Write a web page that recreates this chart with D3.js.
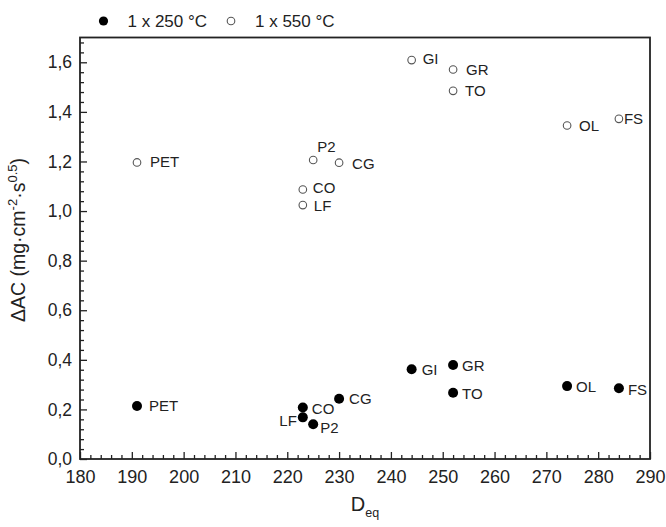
<!DOCTYPE html>
<html>
<head>
<meta charset="utf-8">
<script src="https://cdn.jsdelivr.net/npm/d3@7"></script>
<style>
  body { margin: 0; background: #fff; }
  svg text { font-family: "Liberation Sans", Arial, sans-serif; fill: #222; }
</style>
</head>
<body>
<div id="graph"></div>
<script>
// samples, D_eq and delta AC
const samples = ["PET", "CO", "LF", "P2", "CG", "GI", "GR", "TO", "OL", "FS"];
const deq = [191, 223, 223, 225, 230, 244, 252, 252, 274, 284];
const ac250 = [0.214, 0.208, 0.168, 0.14, 0.243, 0.362, 0.379, 0.267, 0.294, 0.285];
const ac550 = [1.196, 1.087, 1.024, 1.206, 1.195, 1.609, 1.571, 1.485, 1.345, 1.372];
const seriesNames = ["1 x 250 °C", "1 x 550 °C"];
const xTicks = [180, 190, 200, 210, 220, 230, 240, 250, 260, 270, 280, 290];
const yTicks = [0, 0.2, 0.4, 0.6, 0.8, 1.0, 1.2, 1.4, 1.6];

// label offsets from the dot (px) [dx, dy, anchor]
const lab250 = {PET:[12,0,"start"], CO:[9,1,"start"], LF:[-6,3,"end"], P2:[7,3,"start"], CG:[10,0,"start"],
  GI:[10,1,"start"], GR:[9,1,"start"], TO:[9,1,"start"], OL:[9,1,"start"], FS:[9,1,"start"]};
const lab550 = {PET:[13,-1,"start"], CO:[10,-2,"start"], LF:[11,1,"start"], P2:[4,-13,"start"], CG:[13,1,"start"],
  GI:[11,-1,"start"], GR:[13,0,"start"], TO:[12,0,"start"], OL:[12,0,"start"], FS:[5,0,"start"]};

const width = 666, height = 527;
const margin = {left: 80, right: 16, top: 37.5, bottom: 68};
const chartWidth = width - margin.left - margin.right;
const chartHeight = height - margin.top - margin.bottom;

const svg = d3.select("#graph").append("svg")
    .attr("width", width)
    .attr("height", height);

const x = d3.scaleLinear().domain([180, 290]).range([0, chartWidth]);
const y = d3.scaleLinear().domain([0, 1.7]).range([chartHeight, 0]);

const chart = svg.append("g")
    .attr("transform", `translate(${margin.left}, ${margin.top})`);

// minor ticks
chart.append("g")
    .attr("transform", `translate(0, ${chartHeight})`)
    .call(d3.axisBottom(x).tickValues(d3.range(182, 290, 2).filter(d => d % 10 !== 0))
      .tickSize(-4).tickFormat(""));
chart.append("g")
    .call(d3.axisLeft(y).tickValues(d3.range(1, 43).filter(d => d % 5 !== 0).map(d => d * 0.04))
      .tickSize(-4).tickFormat(""));

// major ticks
chart.append("g")
    .attr("class", "xaxis")
    .attr("transform", `translate(0, ${chartHeight})`)
    .call(d3.axisBottom(x).tickValues(xTicks).tickSize(-7).tickPadding(11));
chart.append("g")
    .attr("class", "yaxis")
    .call(d3.axisLeft(y).tickValues(yTicks).tickSize(-7).tickPadding(8)
      .tickFormat(d => d.toFixed(1).replace(".", ",")));

chart.selectAll(".domain").remove();
chart.selectAll(".tick line").attr("stroke", "#222").attr("stroke-width", 1.3);
chart.selectAll(".xaxis .tick text").attr("font-size", "18px").style("fill", "#222");
chart.selectAll(".yaxis .tick text").attr("font-size", "17.5px").style("fill", "#222");

chart.append("rect")
    .attr("width", chartWidth)
    .attr("height", chartHeight)
    .attr("fill", "none")
    .attr("stroke", "#222")
    .attr("stroke-width", 1.8);

const rows = samples.map((s, i) => ({name: s, x: deq[i], a: ac250[i], b: ac550[i]}));

// 550 series, open circles
chart.selectAll(".open")
    .data(rows)
    .enter().append("circle")
    .attr("class", "open")
    .attr("cx", d => x(d.x))
    .attr("cy", d => y(d.b))
    .attr("r", 3.8)
    .attr("fill", "#fff")
    .attr("stroke", "#555")
    .attr("stroke-width", 1.1);
chart.selectAll(".lab550")
    .data(rows)
    .enter().append("text")
    .attr("x", d => x(d.x) + lab550[d.name][0])
    .attr("y", d => y(d.b) + lab550[d.name][1])
    .attr("dy", "0.35em")
    .attr("text-anchor", d => lab550[d.name][2])
    .attr("font-size", "15px")
    .text(d => d.name);

// 250 series, filled
chart.selectAll(".full")
    .data(rows)
    .enter().append("circle")
    .attr("class", "full")
    .attr("cx", d => x(d.x))
    .attr("cy", d => y(d.a))
    .attr("r", 5)
    .attr("fill", "#000");
chart.selectAll(".lab250")
    .data(rows)
    .enter().append("text")
    .attr("x", d => x(d.x) + lab250[d.name][0])
    .attr("y", d => y(d.a) + lab250[d.name][1])
    .attr("dy", "0.35em")
    .attr("text-anchor", d => lab250[d.name][2])
    .attr("font-size", "15px")
    .text(d => d.name);

// legend
const legend = svg.append("g").attr("transform", "translate(0, 21)");
legend.append("circle").attr("cx", 103.5).attr("cy", 0).attr("r", 4.6).attr("fill", "#000");
legend.append("text").attr("x", 127.5).attr("dy", "0.35em").attr("font-size", "17px").text(seriesNames[0]);
legend.append("circle").attr("cx", 231).attr("cy", 0).attr("r", 3.8)
    .attr("fill", "#fff").attr("stroke", "#555").attr("stroke-width", 1.1);
legend.append("text").attr("x", 255).attr("dy", "0.35em").attr("font-size", "17px").text(seriesNames[1]);

// axis titles
const yt = svg.append("text")
    .attr("transform", `translate(25, 240) rotate(-90)`)
    .attr("text-anchor", "middle")
    .attr("font-size", "19.5px");
yt.append("tspan").text("ΔAC (mg·cm");
yt.append("tspan").attr("dy", -8).attr("font-size", "13px").text("-2");
yt.append("tspan").attr("dy", 8).text("·s");
yt.append("tspan").attr("dy", -8).attr("font-size", "13px").text("0.5");
yt.append("tspan").attr("dy", 8).text(")");

const xt = svg.append("text")
    .attr("x", margin.left + chartWidth / 2)
    .attr("y", 511)
    .attr("text-anchor", "middle")
    .attr("font-size", "20px");
xt.append("tspan").text("D");
xt.append("tspan").attr("dy", 6).attr("font-size", "12.5px").text("eq");
</script>
</body>
</html>
